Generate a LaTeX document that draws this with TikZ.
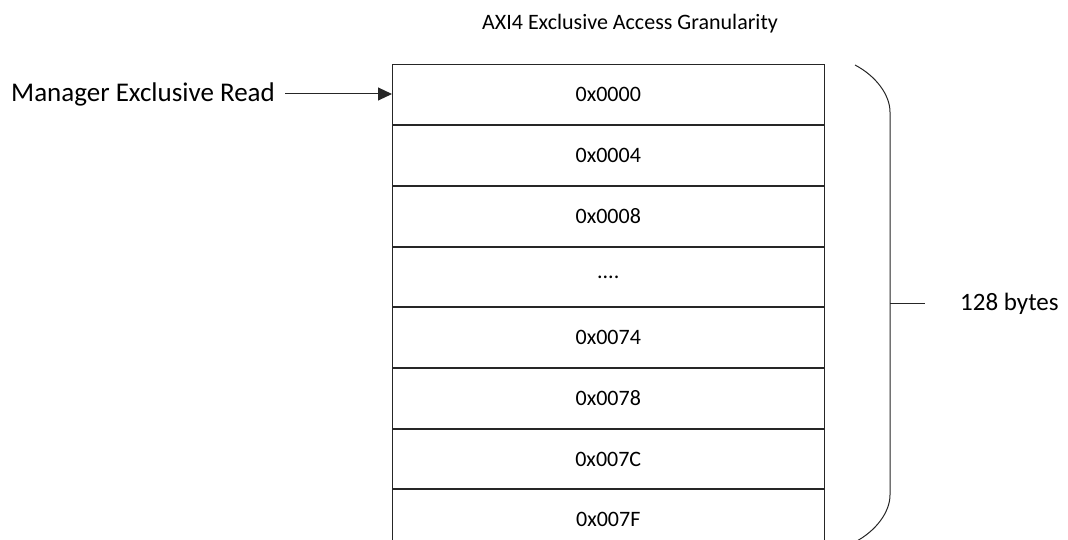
\documentclass[tikz,border=0pt]{standalone}
\usepackage{fontspec}
\setmainfont{Carlito}
\usetikzlibrary{arrows.meta}
\begin{document}
\begin{tikzpicture}[x=1pt,y=-1pt,
  cell/.style={draw=black!85,line width=1pt,minimum width=431.5pt,minimum height=59.7pt,inner sep=0pt,font=\fontsize{22}{26}\selectfont},
  lbl/.style={inner sep=0pt,font=\fontsize{27}{31}\selectfont},
  line/.style={draw=black!85,line width=1pt}]
\useasboundingbox (0,0) rectangle (1068,540);
\node[inner sep=0pt,font=\fontsize{22}{26}\selectfont] (title) at (630,24) {AXI4 Exclusive Access Granularity};
\node[cell] (r1) at (608.25,94.85) {0x0000};
\node[cell,anchor=north] (r2) at (r1.south) {0x0004};
\node[cell,anchor=north] (r3) at (r2.south) {0x0008};
\node[cell,anchor=north] (r4) at (r3.south) {....};
\node[cell,anchor=north] (r5) at (r4.south) {0x0074};
\node[cell,anchor=north] (r6) at (r5.south) {0x0078};
\node[cell,anchor=north] (r7) at (r6.south) {0x007C};
\node[cell,anchor=north] (r8) at (r7.south) {0x007F};
\node[lbl,anchor=east] (mgr) at (275,94) {Manager Exclusive Read};
\coordinate (as) at (285,94);
\draw[line,-{Triangle[length=14pt,width=13pt]}] (as) -- (r1.west |- as);
\coordinate (bt) at (855,65);
\coordinate (bu) at (890,112);
\coordinate (bl) at (890,495);
\coordinate (bb) at (855,542);
\coordinate (bm) at (890,303.5);
\coordinate (be) at (925,303.5);
\draw[line] (bt) .. controls (876,76) and (890,95) .. (bu) -- (bl) .. controls (890,512) and (876,531) .. (bb);
\draw[line] (bm) -- (be);
\node[lbl,anchor=west,font=\fontsize{25}{29}\selectfont] (bytes) at (960,303.5) {128 bytes};
\end{tikzpicture}
\end{document}
